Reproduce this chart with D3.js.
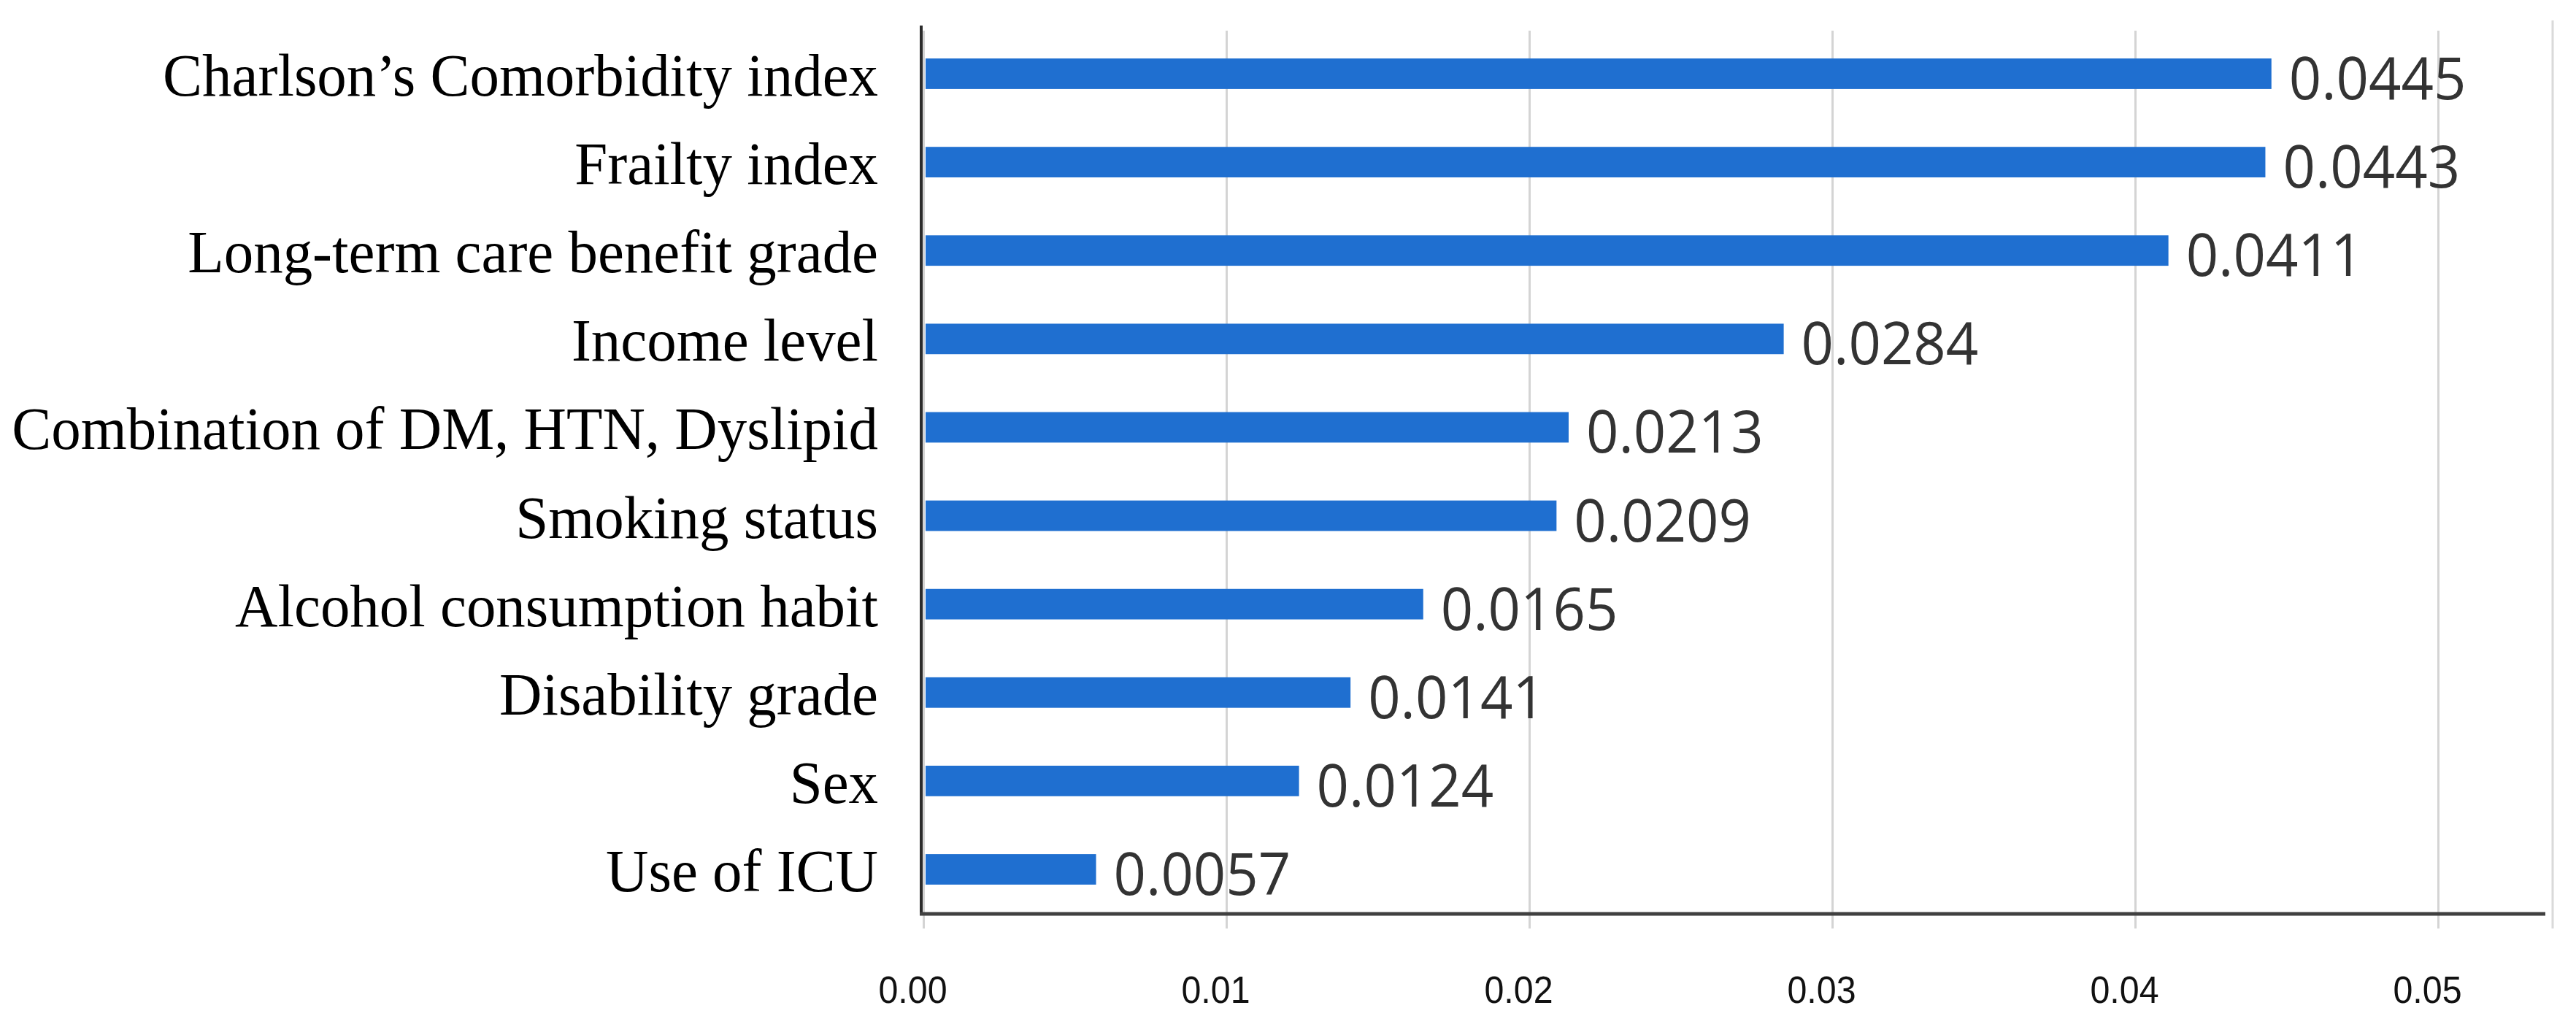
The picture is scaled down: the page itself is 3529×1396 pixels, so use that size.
<!DOCTYPE html>
<html>
<head>
<meta charset="utf-8">
<script src="https://cdn.jsdelivr.net/npm/d3@7"></script>
<style>
  html, body { margin: 0; padding: 0; background: #ffffff; }
  svg { display: block; }
</style>
</head>
<body>
<svg id="chart" width="3529" height="1396"></svg>
<script>
// ---- data ----
const categories = [
  "Charlson\u2019s Comorbidity index",
  "Frailty index",
  "Long-term care benefit grade",
  "Income level",
  "Combination of DM, HTN, Dyslipid",
  "Smoking status",
  "Alcohol consumption habit",
  "Disability grade",
  "Sex",
  "Use of ICU"
];
const values = [0.0445, 0.0443, 0.0411, 0.0284, 0.0213, 0.0209, 0.0165, 0.0141, 0.0124, 0.0057];
const valueLabels = ["0.0445", "0.0443", "0.0411", "0.0284", "0.0213", "0.0209", "0.0165", "0.0141", "0.0124", "0.0057"];
const xTicks = [0, 0.01, 0.02, 0.03, 0.04, 0.05];
const xTickLabels = ["0.00", "0.01", "0.02", "0.03", "0.04", "0.05"];

// ---- layout ----
const svg = d3.select("#chart");
const x0 = 1265, x5 = 3340;
const axisY = 1252, gridTop = 42, gridBottom = 1272;

const x = d3.scaleLinear().domain([0, 0.05]).range([x0, x5]);
const y = d3.scaleBand().domain(categories)
  .range([40.45, 1251.55]).paddingInner(0.655).paddingOuter(0.3275);

// gridlines
const grid = svg.append("g").attr("transform", `translate(0,${gridBottom})`)
  .call(d3.axisBottom(x).tickValues(xTicks).tickSize(-(gridBottom - gridTop)).tickFormat(""));
grid.select(".domain").remove();
grid.selectAll(".tick line").attr("stroke", "#d4d4d4").attr("stroke-width", 3);

// right border line
svg.append("line").attr("x1", 3497).attr("x2", 3497).attr("y1", 28).attr("y2", gridBottom)
  .attr("stroke", "#dadada").attr("stroke-width", 3);

// bars
svg.append("g").selectAll("rect").data(values).join("rect")
  .attr("x", x(0) + 3)
  .attr("y", (d, i) => y(categories[i]))
  .attr("width", d => x(d) - x(0) - 3)
  .attr("height", y.bandwidth())
  .attr("fill", "#1f6fd0");

// value labels (slightly condensed)
const vScale = 0.96;
svg.append("g").selectAll("text").data(values).join("text")
  .attr("transform", `scale(${vScale},1)`)
  .attr("x", d => (x(d) + 24) / vScale)
  .attr("y", (d, i) => y(categories[i]) + y.bandwidth() / 2 + 35)
  .attr("font-family", "'Open Sans', 'Noto Sans', sans-serif")
  .attr("font-size", 81)
  .attr("fill", "#333333")
  .text((d, i) => valueLabels[i]);

// y axis (category labels)
const cScale = 0.975;
const yAxis = svg.append("g").attr("transform", `translate(${1262},0)`)
  .call(d3.axisLeft(y).tickSize(0).tickPadding(59));
yAxis.select(".domain").remove();
yAxis.selectAll(".tick text")
  .attr("dy", null)
  .attr("y", 30)
  .attr("x", -59 / cScale)
  .attr("transform", `scale(${cScale},1)`)
  .attr("font-family", "'Liberation Serif', 'Times New Roman', serif")
  .attr("font-size", 83)
  .attr("fill", "#000");

// y axis line
svg.append("line").attr("x1", 1262).attr("x2", 1262).attr("y1", 35).attr("y2", axisY + 2)
  .attr("stroke", "#2b2b2b").attr("stroke-width", 4);

// x axis line
svg.append("line").attr("x1", 1260).attr("x2", 3487).attr("y1", axisY).attr("y2", axisY)
  .attr("stroke", "#404040").attr("stroke-width", 5);

// x tick labels
const tScale = 0.93;
const xAxis = svg.append("g").attr("transform", `translate(0,${axisY})`)
  .call(d3.axisBottom(x).tickValues(xTicks).tickSize(0).tickFormat((d, i) => xTickLabels[i]));
xAxis.select(".domain").remove();
xAxis.selectAll(".tick text")
  .attr("dy", null)
  .attr("y", 122)
  .attr("x", -15 / tScale)
  .attr("transform", `scale(${tScale},1)`)
  .attr("font-family", "'Liberation Sans', Arial, sans-serif")
  .attr("font-size", 52)
  .attr("fill", "#111");
</script>
</body>
</html>
